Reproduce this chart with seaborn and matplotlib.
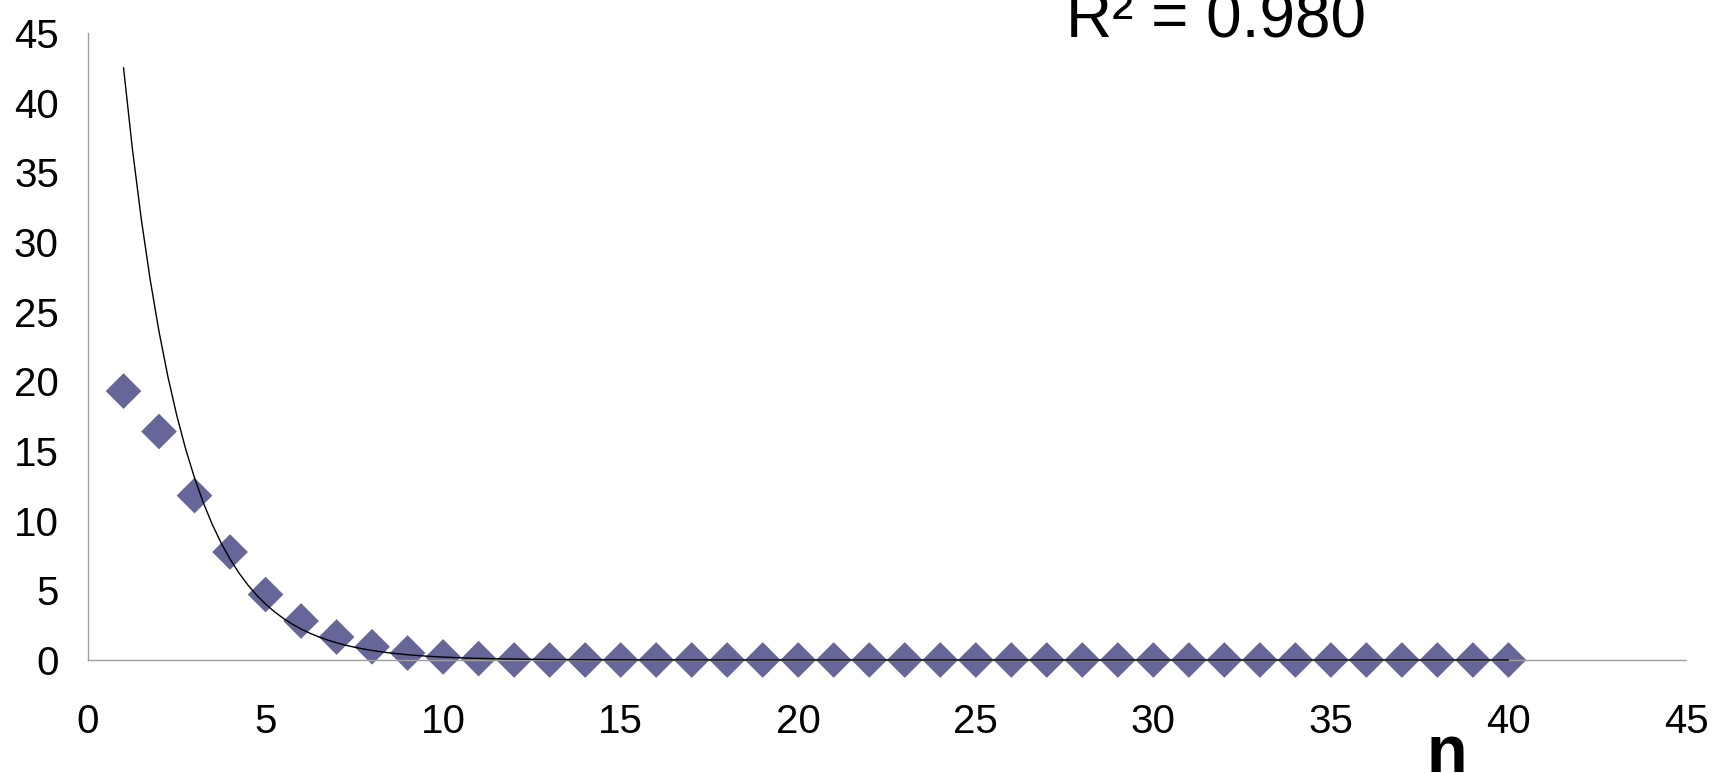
import numpy as np
import pandas as pd
import matplotlib
matplotlib.use("Agg")
import matplotlib.pyplot as plt
import seaborn as sns

# Data
n_values = list(range(1, 41))
y_values = [19.3, 16.4, 11.8, 7.75, 4.7, 2.8, 1.65, 0.95, 0.5, 0.22, 0.1,
            0, 0, 0, 0, 0, 0, 0, 0, 0, 0, 0, 0, 0, 0, 0, 0, 0, 0, 0,
            0, 0, 0, 0, 0, 0, 0, 0, 0, 0]
# exponential trendline y = a * exp(b * n)
trend_a = 76.7
trend_b = -0.59
r2_label = "R² = 0.980"
x_ticks = [0, 5, 10, 15, 20, 25, 30, 35, 40, 45]
y_ticks = [0, 5, 10, 15, 20, 25, 30, 35, 40, 45]
x_label = "n"

sns.set_theme(style="white")
plt.rcParams['font.family'] = ['Liberation Sans', 'DejaVu Sans']

fig = plt.figure(figsize=(17.14, 7.73), dpi=100)
ax = fig.add_axes([88 / 1714, (773 - 660) / 773, (1686 - 88) / 1714, (660 - 33) / 773])

df = pd.DataFrame({"n": n_values, "y": y_values})
sns.scatterplot(data=df, x="n", y="y", marker="D", s=330, color="#666699",
                edgecolor="none", ax=ax, zorder=2, clip_on=False)

tx = np.linspace(n_values[0], n_values[-1], 157)
tdf = pd.DataFrame({"n": tx, "y": trend_a * np.exp(trend_b * tx)})
sns.lineplot(data=tdf, x="n", y="y", color="black", linewidth=1.0, ax=ax,
             zorder=3, clip_on=False)

ax.set_xlim(0, 45)
ax.set_ylim(0, 45)
ax.set_xticks(x_ticks)
ax.set_yticks(y_ticks)
ax.tick_params(axis="both", length=0, labelsize=29, colors="black")
ax.tick_params(axis="y", pad=21)
ax.tick_params(axis="x", pad=31)
ax.set_xlabel("")
ax.set_ylabel("")
for side in ["top", "right"]:
    ax.spines[side].set_visible(False)
for side in ["left", "bottom"]:
    ax.spines[side].set_color("#a0a0a0")
    ax.spines[side].set_linewidth(1.0)
ax.grid(False)

fig.text(1216 / 1714, (773 - 37) / 773, r2_label, fontsize=46, ha="center",
         va="baseline", color="black")
fig.text(1447 / 1714, 1 / 773, x_label, fontsize=48, fontweight="bold",
         ha="center", va="baseline", color="black")

fig.savefig("out.png", dpi=100)
